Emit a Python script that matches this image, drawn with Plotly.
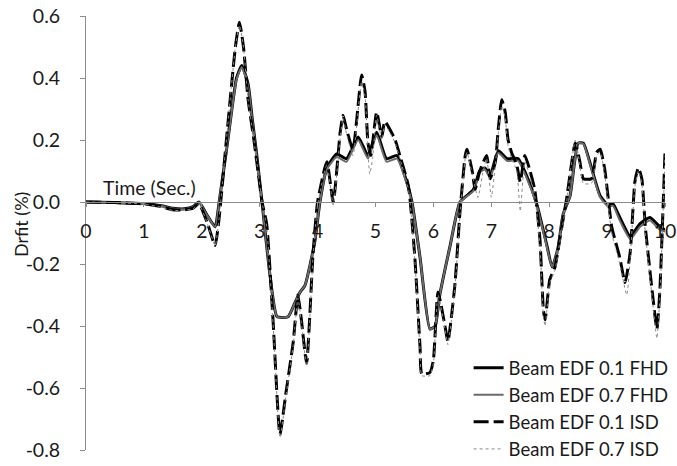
import plotly.graph_objects as go

# Storey drift time histories (%), time in seconds
t_fhd_01 = [0, 0.5, 1.0, 1.3, 1.5, 1.7, 1.85, 1.95, 2.1, 2.23, 2.3, 2.45, 2.6, 2.69, 2.8, 2.87, 2.95,
            3.04, 3.18, 3.3, 3.49, 3.62, 3.7, 3.78, 3.95, 4.04, 4.16, 4.33, 4.5, 4.7, 4.87, 5.02, 5.19,
            5.37, 5.54, 5.63, 5.77, 5.94, 6.03, 6.11, 6.29, 6.46, 6.69, 6.8, 6.89, 6.98, 7.12, 7.27,
            7.46, 7.61, 7.79, 7.96, 8.05, 8.15, 8.24, 8.36, 8.5, 8.59, 8.73, 8.88, 9.02, 9.1, 9.22,
            9.4, 9.57, 9.74, 9.91, 10.0]
d_fhd_01 = [0, -0.002, -0.005, -0.012, -0.02, -0.022, -0.015, 0.0, -0.045, -0.08, 0.0, 0.2, 0.4, 0.44,
            0.38, 0.27, 0.15, 0.0, -0.24, -0.37, -0.37, -0.32, -0.29, -0.27, -0.13, 0.0, 0.11, 0.155,
            0.14, 0.21, 0.15, 0.225, 0.14, 0.15, 0.065, 0.0, -0.18, -0.41, -0.40, -0.30, -0.14, 0.0,
            0.04, 0.1, 0.11, 0.085, 0.165, 0.14, 0.14, 0.085, -0.01, -0.14, -0.21, -0.15, -0.04, 0.02,
            0.19, 0.19, 0.11, 0.02, -0.01, -0.005, -0.05, -0.11, -0.07, -0.05, -0.08, -0.09]

t_fhd_07 = [0, 0.5, 1.0, 1.3, 1.5, 1.7, 1.85, 1.95, 2.1, 2.23, 2.3, 2.45, 2.6, 2.69, 2.8, 2.87, 2.95,
            3.04, 3.18, 3.3, 3.49, 3.62, 3.7, 3.78, 3.95, 4.04, 4.16, 4.33, 4.5, 4.7, 4.87, 5.02, 5.19,
            5.37, 5.54, 5.63, 5.77, 5.94, 6.03, 6.11, 6.29, 6.46, 6.69, 6.8, 6.89, 6.98, 7.12, 7.27,
            7.46, 7.61, 7.79, 7.96, 8.05, 8.15, 8.24, 8.36, 8.5, 8.59, 8.73, 8.88, 9.02, 9.1, 9.22,
            9.4, 9.57, 9.74, 9.91, 10.0]
d_fhd_07 = [0, -0.002, -0.006, -0.013, -0.021, -0.023, -0.016, -0.001, -0.046, -0.08, 0.0, 0.2, 0.395,
            0.435, 0.375, 0.265, 0.145, 0.0, -0.24, -0.37, -0.37, -0.32, -0.29, -0.27, -0.13, 0.0,
            0.105, 0.145, 0.13, 0.2, 0.14, 0.215, 0.13, 0.14, 0.058, -0.003, -0.18, -0.41, -0.40,
            -0.30, -0.14, 0.0, 0.035, 0.095, 0.105, 0.078, 0.158, 0.133, 0.133, 0.078, -0.015, -0.145,
            -0.21, -0.15, -0.04, 0.02, 0.19, 0.188, 0.105, 0.015, -0.015, -0.012, -0.06, -0.12, -0.08,
            -0.06, -0.09, -0.095]

t_isd_01 = [0, 0.5, 1.0, 1.3, 1.5, 1.7, 1.85, 1.95, 2.1, 2.23, 2.3, 2.4, 2.5, 2.58, 2.65, 2.72, 2.8,
            2.9, 2.97, 3.04, 3.12, 3.23, 3.35, 3.45, 3.58, 3.66, 3.72, 3.81, 3.92, 4.0, 4.16, 4.27,
            4.39, 4.44, 4.5, 4.61, 4.76, 4.82, 4.87, 4.92, 5.02, 5.11, 5.16, 5.34, 5.42, 5.57, 5.68,
            5.77, 5.8, 5.94, 6.0, 6.08, 6.2, 6.25, 6.37, 6.46, 6.55, 6.58, 6.67, 6.72, 6.8, 6.92,
            6.98, 7.07, 7.12, 7.18, 7.24, 7.29, 7.35, 7.44, 7.5, 7.58, 7.67, 7.75, 7.84, 7.9, 7.93,
            8.01, 8.1, 8.2, 8.3, 8.45, 8.53, 8.59, 8.73, 8.82, 8.88, 8.96, 9.08, 9.22, 9.31, 9.4,
            9.48, 9.54, 9.6, 9.66, 9.78, 9.86, 9.91, 9.97, 10.0]
d_isd_01 = [0, -0.002, -0.006, -0.015, -0.025, -0.025, -0.02, -0.005, -0.07, -0.14, -0.05, 0.15, 0.35,
            0.5, 0.58, 0.5, 0.33, 0.2, 0.1, 0.0, -0.07, -0.38, -0.75, -0.62, -0.45, -0.30, -0.38,
            -0.52, -0.17, 0.0, 0.13, 0.0, 0.225, 0.28, 0.235, 0.17, 0.41, 0.355, 0.19, 0.15, 0.29,
            0.21, 0.26, 0.2, 0.15, 0.05, -0.18, -0.47, -0.555, -0.55, -0.51, -0.29, -0.4, -0.45,
            -0.27, -0.03, 0.15, 0.17, 0.1, 0.04, 0.1, 0.15, 0.075, 0.13, 0.235, 0.33, 0.29, 0.2,
            0.16, 0.12, 0.065, 0.15, 0.1, 0.04, -0.12, -0.35, -0.38, -0.25, -0.21, -0.1, 0.01, 0.19,
            0.13, 0.075, 0.075, 0.16, 0.17, 0.105, -0.08, -0.18, -0.26, -0.16, 0.065, 0.11, 0.075,
            -0.08, -0.29, -0.41, -0.29, 0.0, 0.16]

t_isd_07 = [0, 0.5, 1.0, 1.3, 1.5, 1.7, 1.85, 1.95, 2.1, 2.23, 2.3, 2.4, 2.5, 2.58, 2.65, 2.72, 2.8,
            2.9, 2.97, 3.04, 3.12, 3.23, 3.35, 3.45, 3.58, 3.66, 3.72, 3.81, 3.92, 4.0, 4.16, 4.27,
            4.39, 4.44, 4.5, 4.61, 4.76, 4.82, 4.9, 4.95, 5.02, 5.11, 5.16, 5.34, 5.42, 5.57, 5.68,
            5.77, 5.8, 5.94, 6.0, 6.08, 6.2, 6.25, 6.37, 6.46, 6.55, 6.58, 6.67, 6.77, 6.85, 6.92,
            7.0, 7.07, 7.12, 7.18, 7.24, 7.29, 7.35, 7.44, 7.5, 7.58, 7.67, 7.75, 7.84, 7.9, 7.93,
            8.01, 8.1, 8.2, 8.3, 8.45, 8.53, 8.59, 8.73, 8.82, 8.88, 8.96, 9.08, 9.22, 9.34, 9.4,
            9.48, 9.54, 9.6, 9.66, 9.78, 9.86, 9.91, 9.97, 10.0]
d_isd_07 = [0, -0.002, -0.007, -0.017, -0.027, -0.027, -0.022, -0.006, -0.072, -0.14, -0.05, 0.15,
            0.35, 0.5, 0.57, 0.5, 0.33, 0.2, 0.1, 0.0, -0.08, -0.39, -0.76, -0.63, -0.46, -0.31,
            -0.39, -0.53, -0.18, -0.01, 0.12, -0.01, 0.21, 0.27, 0.22, 0.15, 0.39, 0.34, 0.09, 0.14,
            0.28, 0.2, 0.25, 0.19, 0.14, 0.04, -0.19, -0.48, -0.56, -0.56, -0.52, -0.3, -0.41,
            -0.46, -0.28, -0.04, 0.14, 0.16, 0.09, 0.015, 0.09, 0.14, 0.015, 0.12, 0.22, 0.31, 0.27,
            0.18, 0.14, 0.1, -0.03, 0.13, 0.08, 0.02, -0.14, -0.37, -0.40, -0.26, -0.22, -0.11, 0.0,
            0.2, 0.12, 0.06, 0.06, 0.15, 0.16, 0.09, -0.1, -0.2, -0.3, -0.18, 0.05, 0.1, 0.06, -0.1,
            -0.31, -0.44, -0.31, -0.02, 0.15]

series_names = ["Beam EDF 0.1 FHD", "Beam EDF 0.7 FHD", "Beam EDF 0.1 ISD", "Beam EDF 0.7 ISD"]

x_ticks = [0, 1, 2, 3, 4, 5, 6, 7, 8, 9, 10]
y_ticks = [-0.8, -0.6, -0.4, -0.2, 0.0, 0.2, 0.4, 0.6]
y_tick_text = ["-0.8", "-0.6", "-0.4", "-0.2", "0.0", "0.2", "0.4", "0.6"]

FONT = "Lato, 'Open Sans', sans-serif"
TXT = "#1a1a1a"
FS = 19.5

SMOOTH = dict(shape="spline", smoothing=0.5)

fig = go.Figure()
fig.add_trace(go.Scatter(x=t_fhd_01, y=d_fhd_01, mode="lines", name=series_names[0],
                         line=dict(color="black", width=3, **SMOOTH)))
fig.add_trace(go.Scatter(x=t_fhd_07, y=d_fhd_07, mode="lines", name=series_names[1],
                         line=dict(color="#6a6a6a", width=2, **SMOOTH)))
fig.add_trace(go.Scatter(x=t_isd_01, y=d_isd_01, mode="lines", name=series_names[2],
                         line=dict(color="black", width=3, dash="15px,5px", **SMOOTH)))
fig.add_trace(go.Scatter(x=t_isd_07, y=d_isd_07, mode="lines", name=series_names[3],
                         line=dict(color="#8a8a8a", width=1, dash="dot", **SMOOTH)))

y_lo, y_hi = -0.8, 0.6

fig.update_layout(
    width=677, height=466,
    margin=dict(l=86, r=12, t=16, b=16, autoexpand=False),
    paper_bgcolor="white", plot_bgcolor="white",
    font=dict(family=FONT, size=FS, color=TXT),
    showlegend=True,
    legend=dict(xref="container", yref="paper", x=0.995, y=-0.042,
                xanchor="right", yanchor="bottom",
                bgcolor="rgba(0,0,0,0)", font=dict(size=18.5, color=TXT),
                tracegroupgap=0, itemwidth=30),
    xaxis=dict(range=[0, 10], tickvals=x_ticks, ticktext=[str(v) for v in x_ticks],
               showgrid=False, zeroline=False,
               showline=True, linecolor="#8c8c8c", linewidth=1,
               ticks="outside", ticklen=4, tickcolor="#8c8c8c",
               anchor="free", position=(0 - y_lo) / (y_hi - y_lo),
               ticklabelstandoff=8, tickfont=dict(size=FS, color=TXT)),
    yaxis=dict(range=[y_lo, y_hi], tickvals=y_ticks, ticktext=y_tick_text,
               showgrid=False, zeroline=False,
               showline=True, linecolor="#8c8c8c", linewidth=1,
               ticks="outside", ticklen=5, tickcolor="#8c8c8c",
               ticklabelstandoff=16, tickfont=dict(size=FS, color=TXT)),
)

fig.add_annotation(text="Time (Sec.)", xref="x", yref="y", x=1.1, y=0.0, yanchor="bottom",
                   yshift=1, showarrow=False, font=dict(size=FS, color=TXT))
fig.add_annotation(text="Drfit (%)", xref="paper", yref="paper", x=-0.111, y=0.52,
                   xanchor="center", yanchor="middle",
                   textangle=-90, showarrow=False, font=dict(size=18, color=TXT))

fig.write_html("out.html")
